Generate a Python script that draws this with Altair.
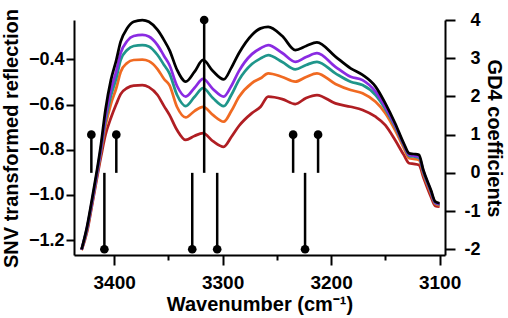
import altair as alt
import pandas as pd

# Wavenumber positions (cm-1) where the spectra were read
wavenumber = [3430, 3425, 3420, 3412, 3408, 3403, 3398, 3394, 3388, 3382, 3374, 3368,
              3360, 3354, 3349, 3342, 3334, 3326, 3318, 3309, 3299, 3292, 3285, 3273,
              3265, 3258, 3245, 3233, 3223, 3213, 3196, 3182, 3171, 3159, 3150, 3141,
              3133, 3128, 3124, 3119, 3115, 3108, 3104, 3100]

snv_black = [-1.241, -1.141, -1.008, -0.772, -0.624, -0.492, -0.403, -0.322, -0.263, -0.234, -0.226, -0.234,
             -0.270, -0.315, -0.359, -0.447, -0.499, -0.456, -0.403, -0.452, -0.489, -0.438, -0.373, -0.292,
             -0.263, -0.256, -0.297, -0.359, -0.341, -0.325, -0.388, -0.440, -0.469, -0.521, -0.595, -0.683,
             -0.772, -0.816, -0.819, -0.823, -0.890, -0.978, -1.030, -1.037]
snv_purple = [-1.242, -1.146, -1.018, -0.788, -0.655, -0.536, -0.452, -0.372, -0.319, -0.297, -0.292, -0.299,
              -0.337, -0.385, -0.425, -0.518, -0.565, -0.527, -0.487, -0.531, -0.565, -0.518, -0.452, -0.377,
              -0.351, -0.337, -0.372, -0.411, -0.390, -0.373, -0.433, -0.477, -0.492, -0.543, -0.611, -0.691,
              -0.777, -0.823, -0.826, -0.830, -0.894, -0.983, -1.034, -1.040]
snv_teal = [-1.242, -1.151, -1.023, -0.797, -0.673, -0.562, -0.483, -0.403, -0.359, -0.341, -0.337, -0.343,
            -0.381, -0.425, -0.462, -0.558, -0.607, -0.567, -0.528, -0.571, -0.607, -0.558, -0.492, -0.421,
            -0.396, -0.381, -0.412, -0.444, -0.425, -0.411, -0.462, -0.499, -0.514, -0.558, -0.620, -0.698,
            -0.781, -0.828, -0.830, -0.835, -0.899, -0.987, -1.036, -1.042]
snv_orange = [-1.244, -1.155, -1.027, -0.806, -0.695, -0.598, -0.527, -0.456, -0.416, -0.403, -0.401, -0.408,
              -0.443, -0.487, -0.514, -0.611, -0.657, -0.629, -0.610, -0.646, -0.676, -0.629, -0.567, -0.505,
              -0.484, -0.462, -0.478, -0.499, -0.478, -0.462, -0.509, -0.536, -0.550, -0.588, -0.638, -0.713,
              -0.792, -0.838, -0.841, -0.846, -0.907, -0.994, -1.040, -1.047]
snv_red = [-1.244, -1.164, -1.036, -0.828, -0.735, -0.660, -0.598, -0.554, -0.527, -0.516, -0.514, -0.523,
           -0.558, -0.607, -0.646, -0.713, -0.757, -0.739, -0.727, -0.762, -0.787, -0.744, -0.695, -0.638,
           -0.610, -0.565, -0.576, -0.598, -0.571, -0.558, -0.595, -0.610, -0.624, -0.654, -0.691, -0.757,
           -0.823, -0.860, -0.863, -0.868, -0.921, -1.008, -1.049, -1.052]

series_names = ["1", "2", "3", "4", "5"]
series_values = [snv_red, snv_orange, snv_teal, snv_purple, snv_black]
series_colors = ["#b01e23", "#f06a22", "#1f968b", "#8a2be2", "#000000"]

# GD4 coefficients (stem plot)
stem_positions = [3421, 3409, 3398, 3328, 3317, 3305, 3235, 3224, 3212]
stem_coefs = [1, -2, 1, -2, 4, -2, 1, -2, 1]

x_ticks = [3100, 3150, 3200, 3250, 3300, 3350, 3400]
left_ticks = [-1.2, -1.0, -0.8, -0.6, -0.4]
right_ticks = [-2, -1, 0, 1, 2, 3, 4]

rows = []
for name, vals in zip(series_names, series_values):
    for w, v in zip(wavenumber, vals):
        rows.append({"series": name, "wavenumber": w, "snv": v})
spec_df = pd.DataFrame(rows)
stem_df = pd.DataFrame({"wavenumber": stem_positions, "coef": stem_coefs})

x_scale = alt.Scale(domain=[3095, 3437], reverse=True, nice=False, zero=False)
x_axis = alt.Axis(
    values=x_ticks,
    labelExpr="datum.value % 100 == 0 ? datum.label : ''",
    format="d",
    tickSize={"condition": {"test": "datum.value % 100 == 0", "value": 10}, "value": 5},
    labelFontSize=19,
    labelPadding=8,
    labelFlush=False,
    labelOverlap=False,
    title="Wavenumber (cm\u207b\u00b9)",
    titleFontSize=20,
    titleBaseline="alphabetic",
    titleX=185.5,
    titleY=55,
)

lines = alt.Chart(spec_df).mark_line(strokeWidth=2.75, interpolate="monotone").encode(
    x=alt.X("wavenumber:Q", scale=x_scale, axis=x_axis),
    y=alt.Y(
        "snv:Q",
        scale=alt.Scale(domain=[-1.266, -0.226], nice=False, zero=False),
        axis=alt.Axis(
            values=left_ticks,
            format=".1f",
            labelFontSize=18,
            labelPadding=2,
            tickSize=8,
            title="SNV transformed reflection",
            titleFontSize=20,
            titleBaseline="alphabetic",
            titleX=-57,
            titleY=118,
        ),
    ),
    color=alt.Color("series:N", scale=alt.Scale(domain=series_names, range=series_colors), legend=None),
    order=alt.Order("series:N"),
)

right_axis = alt.Axis(
    orient="right",
    values=right_ticks,
    labelExpr="replace(format(datum.value, 'd'), '\u2212', '-')",
    labelFontSize=18,
    labelAlign="right",
    labelPadding=25,
    tickSize=10,
    title="GD4 coefficients",
    titleFontSize=20,
    titleBaseline="alphabetic",
    titleX=42,
    titleY=118,
)
right_scale = alt.Scale(domain=[-2.15, 4.0], nice=False, zero=False)

stems = alt.Chart(stem_df).mark_rule(strokeWidth=2.5, color="black").encode(
    x=alt.X("wavenumber:Q", scale=x_scale, axis=x_axis),
    y=alt.Y("coef:Q", scale=right_scale, axis=right_axis),
    y2=alt.datum(0),
)
dots = alt.Chart(stem_df).mark_circle(size=75, color="black", opacity=1).encode(
    x=alt.X("wavenumber:Q", scale=x_scale, axis=x_axis),
    y=alt.Y("coef:Q", scale=right_scale, axis=right_axis),
)

chart = alt.layer(lines, alt.layer(stems, dots)).resolve_scale(y="independent").properties(
    width=371,
    height=235,
    autosize=alt.AutoSizeParams(type="none"),
    padding={"left": 74, "top": 20, "right": 63, "bottom": 63},
    background="white",
).configure_view(stroke=None).configure_axis(
    grid=False,
    domainColor="black",
    domainWidth=2,
    tickColor="black",
    tickWidth=2,
    labelColor="black",
    titleColor="black",
    labelFont="Liberation Sans",
    titleFont="Liberation Sans",
    labelFontWeight="bold",
    titleFontWeight="bold",
)

chart.save("out.html", embed_options={"renderer": "svg", "actions": False})
